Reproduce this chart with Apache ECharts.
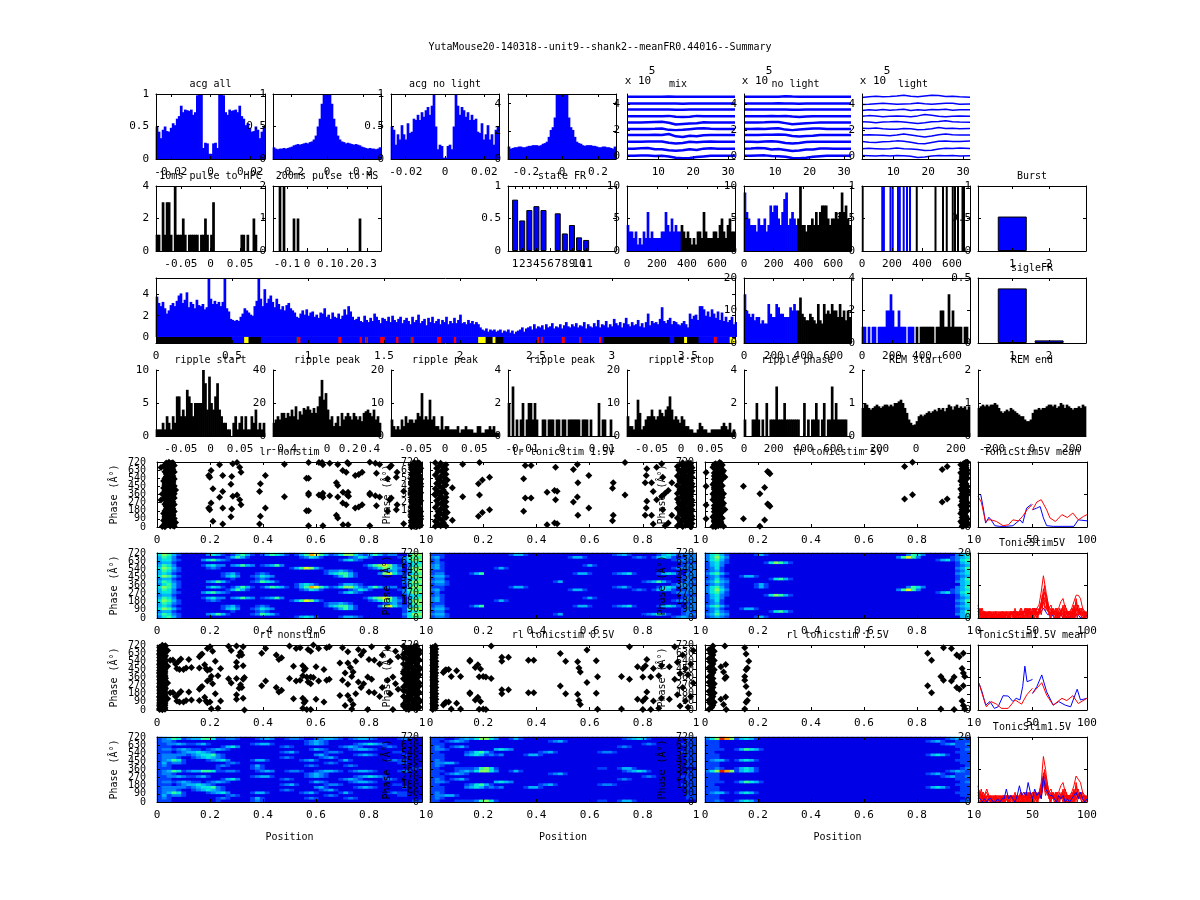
<!DOCTYPE html>
<html><head><meta charset="utf-8">
<style>html,body{margin:0;padding:0;background:#fff}#c{width:1200px;height:900px}</style>
<script src="https://cdn.jsdelivr.net/npm/echarts@6/dist/echarts.min.js"></script>
</head><body><div id="c"></div>
<script>
// ---------- data ----------
const acgAllHalf=[.5,.42,.32,.45,.5,.43,.42,.48,.55,.52,.62,.66,.82,.72,.76,.75,.74,.76,.68,.72,.98,1,1,.17,.25,.24,.08];
const acgWideHalf=[.18,.16,.15,.16,.16,.17,.16,.17,.18,.19,.21,.22,.23,.22,.23,.24,.25,.24,.26,.27,.3,.36,.5,.62,.85,1,1];
const acgNoLightHalf=[.5,.45,.22,.38,.3,.52,.38,.3,.55,.4,.42,.62,.6,.68,.6,.72,.65,.75,.8,.68,.82,1,.5,.15,.22,.2,.02];
const acgNoLightWideHalf=[.9,.75,.8,.85,.85,.9,.9,.85,.85,.9,.95,.95,1,1,1,.95,1,1.1,1.15,1.25,1.6,2.1,2.3,3,4.7,4.7,4.7];
const pulse10=[1,1,0,3,1,3,3,1,0,4,1,1,1,2,1,0,1,1,1,1,1,0,1,1,2,1,0,1,3,0,0,0,0,0,0,0,0,0,0,0,0,0,1,1,0,1,0,0,2,1,0,0,0,0];
const pulse200=[0,0,0,2,0,2,0,0,0,0,1,0,1,0,0,0,0,0,0,0,0,0,0,0,0,0,0,0,0,0,0,0,0,0,0,0,0,0,0,0,0,0,0,1,0,0,0,0,0,0,0,0,0,0];
const stateFR=[.79,.47,.63,.69,.63,0,.58,.27,.4,.21,.17];
const phaseMix=[4,3,3,2,3,1,2,1,3,2,6,2,3,2,2,2,2,3,3,6,4,3,5,3,4,3,3,4,3,2,3,2,1,2,1,3,3,2,6,3,2,2,2,3,3,2,4,5,3,2,4,5,3,3];
const phaseNoLight=[9,6,5,4,4,4,3,5,4,4,5,3,4,7,6,7,7,5,4,6,8,9,4,5,6,5,4,5,10,4,4,3,4,4,5,4,6,4,6,7,7,7,5,4,5,5,6,5,6,9,6,7,5,4];
const phaseLightX=[5,135,146,190,205,240,252,278,300,320,365,490,540,565,605,620,640,670,680];
const burstVals=[.53];
const longFR=[3.8,3.2,2.9,3.3,2.7,2.2,2.5,3.0,3.2,2.9,3.4,3.9,4.1,3.2,3.5,4.2,2.8,3.3,3.1,2.7,3.5,3.0,2.9,3.1,2.6,2.8,5.5,3.6,3.1,3.4,3.1,3.3,2.9,3.3,5.6,2.7,2.4,1.7,1.6,1.5,1.6,1.5,1.9,2.2,2.7,2.5,2.3,2.1,2.0,2.9,3.4,5.6,3.6,2.9,4.5,3.2,3.6,3.9,3.3,2.8,3.6,3.1,2.6,2.9,2.5,3.0,3.2,2.7,2.5,2.3,1.9,1.8,2.2,2.5,2.1,2.6,2.0,2.3,2.4,1.9,2.1,1.8,2.3,2.2,2.7,1.9,2.1,1.7,2.3,1.9,1.8,2.2,1.7,2.0,2.6,2.1,2.9,2.4,1.9,1.6,1.7,1.9,1.5,1.4,2.0,1.6,1.4,1.8,1.5,2.2,1.9,1.6,1.3,1.8,1.7,1.5,1.9,1.4,2.0,1.6,1.4,1.7,1.9,1.3,1.6,1.8,1.5,1.2,1.9,1.4,1.6,2.1,1.3,1.5,1.7,1.1,1.8,1.4,1.9,1.3,1.5,1.7,1.2,1.6,1.4,1.9,1.2,1.5,1.3,1.8,1.3,1.6,2.1,1.3,1.4,1.2,1.6,1.3,1.5,1.2,1.4,1.2,.9,.7,.6,.8,.5,.7,.6,.7,.5,.6,.7,.4,.6,.5,.7,.4,.6,.3,.5,.6,.7,.9,.5,.8,.9,1.0,.7,1.2,.8,1.0,.9,1.1,.7,1.2,.9,1.0,1.3,.8,1.0,.9,1.2,.8,1.1,1.4,1.0,.9,1.2,1.0,1.3,.9,1.1,1.0,1.4,.8,1.2,1.0,.9,1.3,1.0,1.6,.9,1.2,1.1,1.5,.9,1.2,1.0,1.7,1.3,1.1,1.4,.9,1.3,1.8,1.2,1.0,1.4,1.1,1.2,1.6,1.0,1.3,.9,1.4,2.2,1.1,1.5,1.3,1.4,1.2,1.7,2.8,1.5,1.3,1.6,1.8,1.2,1.5,1.4,1.2,1.1,1.3,1.5,1.2,.9,2.2,1.7,2.0,2.1,1.6,2.9,2.9,2.6,2.0,2.4,1.9,2.6,2.2,1.8,2.4,1.6,2.3,1.5,1.9,1.4,1.6,1.9,1.2,1.4,1.1,1.3];
const stripSegments=[[0,3.81,'b'],[0,.5,'k'],[.58,.61,'y'],[.61,.69,'k'],[.925,.935,'g'],[.935,.95,'r'],[1.2,1.22,'r'],[1.34,1.355,'r'],[1.375,1.385,'g'],[1.385,1.395,'r'],[1.475,1.505,'r'],[1.58,1.595,'r'],[1.675,1.685,'g'],[1.685,1.695,'r'],[1.85,1.875,'r'],[1.96,1.975,'r'],[2.12,2.17,'y'],[2.17,2.215,'k'],[2.215,2.235,'y'],[2.235,2.285,'k'],[2.51,2.52,'r'],[2.535,2.545,'r'],[2.67,2.69,'r'],[2.785,2.795,'r'],[2.915,2.93,'r'],[2.945,3.38,'k'],[3.41,3.475,'k'],[3.475,3.495,'y'],[3.495,3.57,'k'],[3.67,3.69,'r'],[3.775,3.81,'y']];
const fr20=[15,10,9,8,9,7,8,8,6,7,6,6,12,9,8,8,12,11,9,9,8,8,8,11,10,12,10,10,14,9,8,7,7,9,8,7,6,12,7,6,12,9,10,9,12,10,10,8,12,8,10,7,10,8];
const fr4=[1,1,0,1,0,1,1,0,1,1,1,1,2,2,3,2,1,1,2,1,1,1,0,1,1,1,0,1,0,1,1,1,1,1,1,1,0,1,1,2,2,1,1,3,1,2,1,1,1,1,0,1,1,0];
const sigleFR=[.42,.02];
const rippleStart=[1,1,1,2,1,3,2,1,3,2,6,6,3,4,3,7,6,5,3,5,5,5,5,10,8,4,9,5,4,6,8,4,3,2,2,1,1,0,2,3,1,2,3,1,3,1,1,3,2,4,1,2,1,2];
const ripplePeakA=[8,10,12,10,14,14,11,14,12,16,12,18,10,15,13,17,16,18,16,14,17,14,18,24,34,22,26,16,10,12,6,8,12,6,14,10,12,14,12,10,14,12,10,12,9,14,15,16,14,12,16,10,12,8];
const ripplePeakB=[5,3,2,3,2,5,3,6,4,5,5,4,5,7,6,13,5,6,5,11,5,6,3,3,2,6,2,3,3,2,2,2,2,3,1,2,2,3,2,2,2,1,1,3,3,1,1,2,2,3,2,3,1,1];
const ripplePeakC=[2,0,3,0,1,0,1,2,0,1,2,2,1,2,1,0,0,1,1,0,1,1,1,0,1,1,0,1,1,0,1,1,1,1,1,1,0,1,1,1,0,1,0,0,0,2,0,1,1,0,0,1,0,0];
const rippleStop=[6,3,3,2,5,11,7,2,3,5,6,6,8,6,5,6,8,7,6,8,9,12,8,5,6,5,4,6,5,3,3,2,2,1,1,2,4,3,2,2,1,1,2,2,2,2,2,3,4,3,2,4,1,2];
const ripplePhase=[1,0,0,0,1,1,2,1,0,1,0,2,0,1,1,1,3,1,1,1,2,1,1,1,1,1,1,1,0,0,2,0,1,0,1,1,2,1,0,1,2,0,1,1,3,1,2,1,1,1,1,1,0,0];
const remStart=[.85,1,.95,.85,.8,.85,.9,.95,.9,.85,.9,.95,.95,.9,.95,.9,1,1,1.05,1.1,1,.85,.7,.5,.4,.33,.35,.45,.6,.65,.6,.65,.7,.75,.7,.75,.8,.75,.85,.8,.85,.75,.85,.95,.9,.8,.9,.95,.85,.9,.85,.9,.8,.9];
const remEnd=[.85,.9,.95,.9,.95,.9,.95,.95,1,.95,.85,.75,.7,.75,.8,.75,.85,.8,.75,.7,.65,.6,.6,.5,.45,.45,.5,.7,.8,.8,.85,.8,.85,.85,.9,.95,.95,.9,.95,.85,.9,1,.95,.85,.95,.9,.85,.8,.85,.85,.9,.85,.95,.9];

// spike waveforms, ×10^5, bottom channel first
const waveX=[1,3,5,7,9,11,13,15,17,19,21,23,25,27,29,32];
const waveMix=[
[0,0,.02,.02,-.02,0,-.05,-.15,-.2,-.18,-.1,-.05,0,0,0,0],
[.55,.55,.58,.6,.5,.5,.42,.38,.42,.5,.45,.55,.58,.55,.55,.55],
[1.08,1.08,1.08,1.1,1.1,1.1,1.0,.95,.98,1.08,1.05,1.08,1.1,1.08,1.08,1.08],
[1.6,1.6,1.6,1.6,1.62,1.6,1.68,1.5,1.45,1.55,1.5,1.58,1.6,1.6,1.6,1.6],
[2.07,2.07,2.07,2.07,2.08,2.1,2.0,1.98,2.0,2.05,2.1,2.12,2.08,2.07,2.07,2.07],
[2.56,2.56,2.56,2.58,2.6,2.62,2.55,2.42,2.46,2.5,2.52,2.58,2.56,2.56,2.56,2.56],
[3.05,3.05,3.05,3.06,3.06,3.05,3.08,3.02,3.0,3.02,3.08,3.05,3.05,3.05,3.05,3.05],
[3.57,3.57,3.57,3.57,3.58,3.58,3.57,3.56,3.55,3.57,3.58,3.57,3.57,3.57,3.57,3.57],
[4.03,4.03,4.03,4.03,4.04,4.04,4.03,4.03,4.02,4.03,4.03,4.03,4.03,4.03,4.03,4.03],
[4.55,4.55,4.55,4.55,4.55,4.56,4.57,4.55,4.55,4.55,4.55,4.55,4.55,4.55,4.55,4.55]];
const waveNoLight=[
[0,0,.02,.03,-.02,-.03,-.08,-.18,-.2,-.16,-.08,-.03,0,0,0,0],
[.55,.56,.6,.58,.48,.52,.44,.36,.4,.48,.48,.56,.56,.55,.55,.55],
[1.08,1.08,1.07,1.1,1.12,1.08,.98,.94,.98,1.06,1.08,1.08,1.09,1.08,1.08,1.08],
[1.6,1.6,1.6,1.62,1.62,1.64,1.62,1.52,1.48,1.52,1.54,1.6,1.6,1.6,1.6,1.6],
[2.07,2.07,2.08,2.07,2.1,2.12,2.02,1.98,2.02,2.06,2.1,2.1,2.07,2.07,2.07,2.07],
[2.56,2.56,2.57,2.58,2.6,2.6,2.52,2.44,2.48,2.52,2.54,2.56,2.56,2.56,2.56,2.56],
[3.05,3.05,3.05,3.05,3.07,3.06,3.08,3.03,3.0,3.03,3.06,3.06,3.05,3.05,3.05,3.05],
[3.57,3.57,3.57,3.57,3.58,3.57,3.58,3.56,3.56,3.57,3.57,3.57,3.57,3.57,3.57,3.57],
[4.03,4.03,4.03,4.03,4.03,4.05,4.04,4.03,4.02,4.03,4.03,4.03,4.03,4.03,4.03,4.03],
[4.55,4.55,4.55,4.56,4.55,4.55,4.6,4.57,4.55,4.55,4.55,4.56,4.55,4.55,4.55,4.55]];
const waveLight=[
[.02,.0,-.02,.02,-.02,.02,.0,-.04,-.14,-.1,-.02,.02,0,.02,-.02,0],
[.55,.58,.55,.52,.55,.6,.55,.52,.48,.4,.42,.52,.58,.56,.6,.56],
[1.1,1.05,1.02,1.08,1.1,1.15,1.12,1.05,.95,.92,1.02,1.12,1.14,1.1,1.1,1.14],
[1.6,1.62,1.6,1.58,1.55,1.6,1.68,1.6,1.52,1.45,1.52,1.62,1.68,1.62,1.6,1.6],
[2.12,2.1,2.15,2.08,2.05,2.05,2.1,2.08,2.0,2.02,2.08,2.18,2.1,2.12,2.08,2.1],
[2.62,2.6,2.55,2.6,2.62,2.65,2.6,2.55,2.5,2.55,2.62,2.65,2.7,2.62,2.6,2.58],
[3.05,3.1,3.08,3.02,3.05,3.08,3.05,3.02,3.08,3.18,3.12,3.05,3.02,3.05,3.08,3.05],
[3.5,3.55,3.52,3.58,3.52,3.55,3.6,3.5,3.55,3.52,3.58,3.55,3.6,3.52,3.55,3.55],
[3.95,3.98,4.02,4.05,4.02,3.98,4.0,4.02,4.08,4.02,3.98,4.02,4.05,4.05,3.98,4.0],
[4.5,4.55,4.6,4.55,4.58,4.62,4.68,4.6,4.55,4.62,4.68,4.65,4.58,4.6,4.55,4.52]];

// raster spikes [position, phase in 0-360]; the 360-720 half repeats them
const lrNonstim=[[.02,5],[.03,15],[.05,10],[.065,8],[.04,25],[.055,30],[.03,42],[.06,45],[.07,50],[.045,60],[.025,72],[.055,75],[.04,88],[.03,100],[.065,95],[.05,110],[.035,122],[.06,128],[.045,140],[.025,150],[.055,155],[.04,168],[.03,178],[.065,172],[.05,190],[.035,200],[.06,205],[.045,218],[.055,230],[.04,240],[.03,252],[.065,250],[.05,262],[.035,272],[.06,280],[.045,292],[.015,298],[.055,305],[.04,318],[.065,322],[.03,330],[.05,340],[.035,350],[.06,352],[.045,358],
[.03,4],[.05,20],[.06,18],[.035,34],[.05,40],[.04,52],[.06,62],[.035,65],[.05,82],[.06,85],[.04,105],[.055,118],[.03,115],[.045,125],[.06,142],[.035,138],[.05,150],[.045,180],[.06,185],[.035,188],[.05,212],[.04,205],[.05,228],[.035,228],[.06,240],[.045,250],[.055,255],[.04,268],[.05,282],[.035,292],[.055,295],[.05,315],[.03,312],[.06,335],[.04,338],[.055,345],
[.195,210],[.204,266],[.199,192],[.236,329],[.248,210],[.282,199],[.286,340],[.302,355],[.312,303],[.317,247],[.409,210],[.39,118],[.387,33],[.279,114],[.248,33],[.211,63],[.481,336],[.572,355],[.564,181],[.572,181],[.572,15],[.626,15],[.611,355],[.623,355],[.626,329],[.652,347],[.682,332],[.677,129],[.682,100],[.702,26],[.721,26],[.701,266],[.714,247],[.718,355],[.723,340],[.748,210],[.761,221],[.774,247],[.803,15],[.803,357],[.824,347],[.828,236],[.84,332],[.87,174],[.884,321],[.878,303],[.906,247],[.903,192],[.931,37],
[.96,3],[.98,12],[.995,20],[.965,30],[.985,40],[.97,52],[.99,60],[.96,70],[.98,82],[.995,90],[.965,100],[.985,112],[.975,122],[.99,132],[.96,142],[.98,152],[.97,162],[.995,172],[.965,182],[.985,192],[.975,202],[.99,212],[.96,222],[.98,232],[.97,242],[.99,252],[.965,262],[.985,272],[.975,282],[.995,292],[.96,302],[.98,312],[.97,322],[.99,332],[.965,342],[.985,352],
[.97,8],[.99,10],[.975,22],[.96,18],[.99,38],[.975,40],[.96,50],[.985,62],[.975,72],[.99,78],[.97,92],[.98,100],[.96,112],[.995,118],[.97,132],[.985,140],[.975,150],[.99,160],[.96,172],[.98,180],[.99,190],[.97,210],[.985,220],[.965,235],[.98,248],[.97,258],[.99,268],[.96,280],[.985,290],[.975,305],[.99,315],[.965,325],[.98,335],[.99,345],[.97,355]];
const lrTonic15=[[.02,8],[.04,15],[.06,10],[.03,35],[.05,50],[.02,65],[.045,78],[.035,95],[.06,105],[.025,122],[.05,135],[.04,150],[.065,160],[.03,172],[.055,185],[.04,200],[.02,215],[.06,225],[.05,240],[.03,255],[.045,268],[.06,280],[.025,292],[.05,305],[.035,318],[.06,330],[.04,345],[.02,352],
[.084,74],[.123,336],[.182,118],[.197,162],[.224,192],[.186,354],[.352,174],[.358,321],[.38,321],[.44,26],[.468,44],[.478,37],[.472,303],[.539,277],[.554,332],[.556,129],[.597,210],[.686,70],[.689,129],[.733,355],[.815,284],[.813,210],[.809,129],[.833,129],[.852,303],[.871,340],[.839,33],[.896,44],[.884,15],[.909,129],[.875,192],
[.93,10],[.96,20],[.98,5],[.94,40],[.97,55],[.95,70],[.985,85],[.93,100],[.96,115],[.98,130],[.94,145],[.97,160],[.95,175],[.985,190],[.93,205],[.96,220],[.98,235],[.94,250],[.97,265],[.95,280],[.985,295],[.93,310],[.96,325],[.98,340],[.95,352],
[.95,5],[.97,25],[.985,38],[.94,58],[.96,62],[.98,78],[.95,92],[.97,108],[.985,118],[.95,128],[.96,140],[.98,155],[.94,168],[.965,180],[.945,195],[.975,210],[.95,232],[.985,245],[.96,258],[.935,272],[.97,285],[.955,300],[.98,315],[.945,332],[.97,348]];
const lrTonic5=[[.03,6],[.05,14],[.07,8],[.04,30],[.06,42],[.035,58],[.055,70],[.045,85],[.065,96],[.03,110],[.05,125],[.04,140],[.06,152],[.035,168],[.055,180],[.075,195],[.045,210],[.06,225],[.035,238],[.05,250],[.07,262],[.04,278],[.06,290],[.03,302],[.05,316],[.065,328],[.04,342],[.055,355],[.004,244],[.004,92],
[.04,2],[.06,20],[.035,22],[.05,35],[.06,55],[.045,60],[.05,80],[.035,75],[.06,110],[.045,105],[.035,128],[.055,135],[.05,150],[.045,165],[.065,172],[.04,185],[.06,198],[.035,205],[.05,220],[.04,232],[.065,240],[.055,255],[.045,265],[.05,285],[.04,295],[.06,305],[.045,322],[.035,332],[.06,345],
[.145,92],[.207,7],[.225,77],[.24,247],[.236,255],[.245,229],[.753,310],[.783,358],[.895,277],[.914,310],
[.97,8],[.985,20],[.975,35],[.99,48],[.965,60],[.98,75],[.99,90],[.97,105],[.985,120],[.975,135],[.965,150],[.98,165],[.99,180],[.97,195],[.985,210],[.975,225],[.965,240],[.98,255],[.99,270],[.97,285],[.985,300],[.975,315],[.965,330],[.98,345],[.99,356],
[.975,12],[.99,28],[.97,42],[.98,55],[.975,85],[.985,100],[.975,115],[.98,145],[.97,172],[.98,190],[.975,205],[.97,218],[.99,232],[.975,250],[.98,275],[.975,295],[.985,320],[.975,340],[.985,358]];
const rlNonstim=[[.01,5],[.02,15],[.03,8],[.015,30],[.025,40],[.01,55],[.03,68],[.02,80],[.012,92],[.028,105],[.018,118],[.032,130],[.01,142],[.024,155],[.015,168],[.03,178],[.02,190],[.012,202],[.028,215],[.018,228],[.032,240],[.01,252],[.024,265],[.015,278],[.03,290],[.02,302],[.012,315],[.028,328],[.018,340],[.032,352],[.04,125],[.04,300],
[.02,3],[.01,18],[.03,25],[.02,35],[.01,45],[.03,50],[.02,62],[.01,78],[.03,88],[.02,100],[.01,112],[.03,115],[.02,130],[.01,150],[.03,160],[.02,172],[.01,185],[.03,200],[.02,210],[.01,222],[.03,232],[.02,248],[.01,262],[.03,270],[.02,285],[.01,295],[.03,310],[.02,320],[.01,335],[.03,345],[.02,358],
[.05,190],[.06,195],[.07,150],[.075,100],[.08,175],[.085,90],[.09,205],[.1,90],[.11,105],[.12,200],[.13,110],[.16,105],[.16,230],[.165,250],[.17,260],[.18,140],[.185,100],[.19,80],[.19,320],[.2,90],[.2,340],[.205,15],[.21,290],[.22,180],[.23,20],[.24,100],[.27,345],[.28,300],[.3,120],[.3,170],[.3,350],[.31,240],[.315,280],[.32,250],[.33,0],[.325,130],[.325,340],[.395,270],[.41,320],[.45,250],[.46,200],[.47,220],[.5,350],[.515,125],[.525,320],[.54,330],[.55,20],[.55,130],[.555,80],[.56,100],[.565,5],[.57,310],[.58,5],[.58,290],[.59,360],[.6,120],[.61,320],[.63,90],[.64,330],[.65,340],[.69,160],[.7,330],[.71,50],[.72,160],[.72,285],[.73,110],[.735,10],[.74,60],[.75,180],[.76,310],[.77,250],[.78,290],[.795,5],[.8,200],[.81,340],[.82,190],[.84,150],[.85,250],[.87,330],[.88,180],[.89,5],[.9,290],[.91,230],
[.94,10],[.96,25],[.98,15],[.93,45],[.95,60],[.97,75],[.99,90],[.94,105],[.96,120],[.98,135],[.93,150],[.95,165],[.97,180],[.99,195],[.94,210],[.96,225],[.98,240],[.93,255],[.95,270],[.97,285],[.99,300],[.94,315],[.96,330],[.98,345],
[.95,5],[.97,20],[.99,30],[.94,30],[.96,48],[.98,60],[.93,65],[.97,92],[.95,100],[.99,110],[.96,130],[.94,130],[.98,155],[.96,170],[.95,190],[.97,205],[.93,215],[.98,225],[.96,245],[.95,255],[.99,265],[.97,270],[.94,285],[.96,300],[.98,310],[.95,325],[.97,340],[.93,345]];
const rlTonic05=[[.01,5],[.02,20],[.012,35],[.022,50],[.01,68],[.02,85],[.012,100],[.022,118],[.01,135],[.02,150],[.012,165],[.022,180],[.01,198],[.02,215],[.012,230],[.022,248],[.01,265],[.02,282],[.012,298],[.022,315],[.01,332],[.02,348],
[.05,55],[.06,85],[.07,90],[.08,10],[.055,75],[.1,75],[.115,12],[.15,190],[.15,180],[.17,110],[.18,140],[.185,8],[.19,95],[.2,10],[.21,5],[.23,350],[.27,180],[.27,225],[.295,225],[.37,190],[.39,190],[.51,180],[.555,175],[.56,105],[.565,60],[.59,305],[.63,8],[.625,185],[.49,265],
[.72,12],[.75,340],[.78,120],[.8,5],[.8,100],[.81,130],[.815,200],[.83,5],[.84,100],[.86,20],[.87,130],[.9,120],[.92,340],[.93,170],[.94,45],[.96,100],[.97,30],[.98,150],[.95,250],[.99,300]];
const rlTonic15=[[.015,8],[.025,28],[.03,52],[.02,70],[.035,85],[.015,108],[.025,128],[.03,150],[.02,170],[.035,188],[.015,208],[.025,228],[.03,250],[.02,270],[.035,290],[.015,308],[.025,328],[.03,350],
[.07,62],[.075,350],[.078,145],[.08,5],[.06,120],[.15,10],[.155,85],[.16,105],[.15,330],[.165,180],[.155,260],
[.84,270],[.855,190],[.89,10],[.9,330],[.93,320],[.94,5],[.95,250],[.96,230],[.97,100],[.975,50],[.975,270],[.98,10]];

// rate maps: 12 rows for 0-360 (bottom first), level 0-9 across position; the 360-720 half repeats them
const heatLrNon=["245310000 000000000 000000000 013431000 013321000 000001455","354210000 023531000 012543100 000000000 000000000 000002466","233100000 000000100 001210000 000000000 000000000 000001345","465310000 000013420 012432000 000000000 135310000 000001566","343100000 000012310 001210000 000000013 455310000 267421245","354210000 000000000 000000000 000000012 232100000 012310256","465310000 012100000 000000000 135763100 000000012 465320366","354200000 134220235 320123520 000000000 000000135 676310245","233100000 000000000 000000000 000000000 000000000 000001344","344210000 245321000 000000000 000000000 013421000 000002466","354200000 000001353 100000000 001243100 000124310 000012555","465310000 024310135 310135431 013587531 246642135 312200466"];
const heatLr15=["122100000 000000000 000000000 000000000 000000000 000012321","233100000 000000000 000000013 000000000 000000012 353100122","122000000 000000000 000000000 000000000 000000000 000000121","233100000 000000000 000000000 000000000 000000000 000000122","122000001 350000000 000000000 001331000 012341000 013431022","111000000 000000000 000000000 000000000 000000000 000000012","231000000 000013100 000000000 000000000 000000000 000012222","231000000 000000000 000000000 000013100 000000000 000000122","121000000 000000000 000000000 000000000 000000000 000000111","120000000 000000000 000000000 000000000 000000000 000012222","231000000 000000000 000000000 013310000 000001210 134310122","111000000 000000013 310000000 000000000 012310000 013431222"];
const heatLr5=["123210000 013100000 000000000 000000000 000000000 000000034","235320000 000000000 000000000 000000000 000000000 000000234","124210000 000014531 000000000 000000000 000000000 000000135","123100013 310000000 000000000 000000000 000000000 000000123","245310000 000000000 000000000 000000000 000000000 000000234","123100000 000000000 000000000 000000000 000000000 000000124","124100000 000000000 000000000 000000000 000000000 000000235","134200000 000000000 000000000 000000000 000000000 000000123","134210000 000146531 000000000 000000000 000000000 000000134","245310000 000000000 000000000 000000000 000000000 001341245","246420000 000000000 000000000 000000000 000257520 000001234","245310000 013100000 000000000 000000000 000002542 000000235"];
const heatRlNon=["111000000 000100000 012100000 000000000 000000000 000000011","121000000 000121000 013100000 000121000 001210000 000000000","131221000 000001210 000000000 000000012 100000000 000011000","123541000 012342000 013310000 001231000 013100000 001211000","122210012 343210000 000000012 100000123 100000000 000000000","122222123 445210000 000000000 000002310 000012321 000001000","111012334 321000000 000000012 310000012 210000000 000110000","122123211 012321000 000000000 000013210 000123321 000000000","111000000 000013420 000000012 100000000 012321000 012100000","112232112 310000000 012331000 000123210 000012343 210000000","122100000 000000000 000000000 000123210 000000000 000000000","123541233 554112210 001232001 221001233 210123321 000012100"];
const heatRl05=["110001111 256410000 000000000 000000011 001331000 000000000","121000000 000000000 000000000 000000000 000000000 000000011","122331000 000000000 000000000 000000000 000000000 000000011","121000000 000000000 000000000 000000000 000000000 000000011","111000000 000000000 000000000 000000000 000000000 000000011","111000023 431212000 013310000 000000000 000000000 000000011","110000012 453100000 000012310 000000012 210000000 000000111","122100000 000034320 000000000 000000000 000000000 000000011","121012310 000000000 000000000 000000000 001210000 000000011","111000000 000000000 000000000 000000000 000000012 100000111","110123210 000000000 000000123 100000000 000000000 000000011","111001232 466420013 100000000 000000000 000123431 000000011"];
const heatRl15=["112100134 310000000 000000000 000000000 000000000 000000012","111000000 000000000 000000000 000000000 000000000 000000001","111000000 000000000 000000000 000000000 000000000 000000011","123310134 310000000 000000000 000000000 000000000 000000111","111000000 000000000 000000000 000000000 000000000 000000011","111000000 000000000 000000000 000000000 000000000 134310011","110000000 000000000 000000000 000000000 000000000 000000111","111100135 431000000 000000000 000000000 000000000 000000012","111000000 000000000 000000000 000000000 000000000 000000111","111000000 000000000 000000000 000000000 000000000 000123112","111000000 000000000 000000000 000000000 000000000 123100111","246986134 310000000 000000000 000000000 000000000 000012321"];

// mean tuning curves [x,y]
const mean5BlueA=[[0,10],[2.5,10],[4.6,6.3],[7,1.2],[10,3],[12,2.2],[15.4,.4],[20,.2],[26,.2],[32,.4],[38.5,2.2],[41,1.2],[44.6,5.8],[49,7]];
const mean5BlueB=[[50,5.3],[53.8,5.8],[57,6.3],[60,2.8],[63,.4],[69,.2],[88,.2],[92,2.2],[100,1.9]];
const mean5RedA=[[0,9.4],[3,7.7],[7,1.5],[9,2.2],[12,2.2],[17,1.7],[23,.4],[28,.7],[32,2.2],[37,1.9],[41,3.3],[45,5.3],[50,7]];
const mean5RedB=[[50,5.3],[54,7.7],[58,8.4],[63,5.3],[66,2.8],[71,1.7],[77,3.8],[82,2.9],[87,4.3],[92,2.2],[97,3.3],[100,3.8]];
const mean15BlueA=[[1,8.2],[3.7,5.6],[7,1.5],[11,2.6],[15,.5],[18.5,1],[23,4.4],[27.7,4.3],[32,2.6],[35,3.6],[38.5,3.1],[41,7.2],[43,13.5],[45,8.7],[50,9.4]];
const mean15BlueB=[[50,5.1],[54,7.2],[58.5,10.8],[63,5.6],[69,1.5],[74,2.6],[80,1.5],[85,1],[91,6.4],[94,3.1],[100,3.6]];
const mean15RedA=[[1,8.2],[3.7,5.1],[7.7,1],[12,2.6],[17,1.8],[21.5,.5],[27.7,.5],[34,3.1],[40,1.8],[44.6,4.6],[50,6.7]];
const mean15RedB=[[50,5.1],[54,6.7],[58.5,8.4],[63,4.6],[69,1.5],[77,3.6],[81.5,2.9],[87,4.4],[92,2],[100,3.6]];

// single-trial tuning curves sampled every 2 position units
const trials5Red=[
[3,2,1,2,1,0,1,1,0,1,1,2,1,0,1,1,2,2,1,1,2,2,3,2,2,3,2,3,4,8,13,9,4,3,2,2,2,3,5,6,3,2,2,3,5,7,7,6,3,2,1],
[4,1,3,0,2,1,0,2,0,1,0,2,0,1,0,2,1,0,2,1,3,0,2,1,3,0,2,1,3,1,5,2,4,1,3,1,2,1,2,0,4,1,2,0,4,1,2,1,3,0,2],
[2,3,0,2,1,2,0,1,2,0,2,0,1,2,0,1,2,0,1,2,0,2,1,3,0,3,1,3,2,5,7,5,2,3,1,2,0,2,1,3,0,2,1,3,1,5,1,2,1,2,1],
[1,0,2,1,0,1,2,0,1,2,1,0,2,1,2,0,1,3,0,1,2,1,0,2,1,2,0,2,1,4,9,6,3,1,2,0,1,2,1,4,1,0,2,1,3,2,4,1,0,1,2],
[3,1,0,2,0,2,1,0,2,1,0,1,0,2,1,2,0,1,2,0,1,2,3,0,2,1,3,0,2,3,6,3,5,0,2,1,3,0,2,1,2,1,0,2,0,6,2,3,1,2,0]];
const trials5RedOdd=[
[2,0,2,1,2,0,2,1,0,2,1,2,0,2,1,2,0,2,1,3,0,2,1,3,0,3,1,2,3,6,8,7,3,4,1,3,0,3,1,2,0,2,1,3,0,4,1,3,0,2],
[0,3,0,2,0,2,0,2,1,0,2,0,2,0,2,1,2,0,2,0,2,0,3,0,2,0,3,0,4,3,10,4,2,0,3,0,2,0,3,1,2,0,2,0,3,0,3,0,2,1],
[3,1,2,0,1,2,1,0,2,1,0,2,1,1,0,2,1,2,0,2,1,3,0,2,1,2,2,1,2,7,5,6,1,2,2,1,3,1,2,0,3,1,0,2,2,3,2,1,2,0]];
const trials5Blue=[2,1,1,0,1,1,0,0,0,1,0,1,0,1,0,1,1,2,1,1,1,2,2,1,2,2,3,1,2,2,3,2,1,1,1,0,1,0,1,0,1,0,0,1,0,1,1,0,1,0,1];
const trials15Red=[
[4,3,1,2,3,1,0,1,1,0,1,1,2,1,0,1,1,2,1,1,2,1,2,2,2,3,2,2,3,6,14,10,4,3,2,2,2,3,5,6,3,2,2,3,5,8,7,6,3,2,1],
[5,1,3,0,2,1,0,2,0,1,0,2,0,1,0,2,1,0,2,1,3,0,2,1,3,0,2,1,3,1,6,2,4,1,3,1,2,1,2,0,4,1,2,0,4,1,2,1,3,0,2],
[2,3,0,2,4,2,0,1,2,0,2,0,1,2,0,1,2,0,1,2,0,2,1,3,0,3,1,3,2,5,7,5,2,3,1,2,0,2,1,3,0,2,1,3,1,5,1,2,1,2,1],
[1,0,2,1,0,1,2,0,1,2,1,0,2,1,2,0,1,3,0,1,2,1,0,2,1,2,0,2,1,4,9,6,3,1,2,0,1,2,1,4,1,0,2,1,3,2,4,1,0,1,2],
[3,1,0,2,0,2,1,0,2,1,0,1,0,2,1,2,0,1,2,0,1,2,3,0,2,1,3,0,2,3,6,3,5,0,2,1,3,0,2,1,2,1,0,2,0,6,2,3,1,2,0]];
const trials15RedOdd=[
[3,0,3,1,2,0,2,1,0,2,1,2,0,2,1,2,0,2,1,3,0,2,1,3,0,3,1,2,3,6,9,7,3,4,1,3,0,3,1,2,0,2,1,3,0,4,1,3,0,2],
[1,4,0,2,0,2,0,2,1,0,2,0,2,0,2,1,2,0,2,0,2,0,3,0,2,0,3,0,4,3,10,4,2,0,3,0,2,0,3,1,2,0,2,0,3,0,3,0,2,1],
[2,2,2,0,1,2,1,0,2,1,0,2,1,1,0,2,1,2,0,2,1,3,0,2,1,2,2,1,2,7,5,6,1,2,2,1,3,1,2,0,3,1,0,2,2,3,2,1,2,0]];
const trials15Blue=[1,1,0,1,0,1,1,0,0,1,0,1,1,4,1,2,1,0,2,5,2,3,2,6,3,1,4,2,3,1,8,4,3,2,2,1,0,2,1,2,0,1,0,1,2,3,1,3,1,0,1];

// tick values
const t01=[0,.5,1], t012=[0,1,2], t024=[0,2,4], t0510=[0,5,10], t01020=[0,10,20], t02040=[0,20,40], tZeroHalf=[0,.5];
const tAcgShort=[-.02,0,.02], tAcgWide=[-.2,0,.2], tPulse=[-.05,0,.05], tPulse200=[-.1,0,.1,.2,.3], tDeg=[0,200,400,600];
const tWaveX=[10,20,30], tStates=[1,2,3,4,5,6,7,8,9,10,11], tStatesMain=[1,2,3,4,5,6,7,8,9,11], tStatesOver=[10], tBurst=[1,2], tLong=[0,.5,1,1.5,2,2.5,3,3.5];
const tRipWide=[-.4,-.2,0,.2,.4], tRipNarrow=[-.01,0,.01], tRem=[-200,0,200], tPos=[0,.2,.4,.6,.8,1];
const tPhase=[0,90,180,270,360,450,540,630,720], tPhaseMain=[0,180,360,540,720], tPhaseOver=[90,270,450,630], tStim=[0,50,100];

// ---------- chart building ----------
const FONT='"DejaVu Sans Mono","Liberation Mono",monospace';
const JET=['#0000e6','#0040ff','#0080ff','#00b4ff','#00e6e0','#30ffa0','#80ff60','#e0ff20','#ffa000','#e02000'];
const grid=[],xAxis=[],yAxis=[],series=[],title=[],heatIdx=[];
const X=[[156,265],[273,381],[391,499],[508,616],[627,735],[744,851],[862,970],[978,1086]];
const RX=[[157,422],[430,696],[705,970],[978,1087]];
const Y=[[94,159],[186,251],[278,343],[370,436],[462,527],[553,618],[645,710],[737,802]];
const fmt=v=>String(+(+v).toFixed(4));
const noMarks={axisLine:{show:false},axisTick:{show:false}};
function axis(kind,pos,gi,r,ticks,labels,extra,lab){
  lab=lab||{};
  const o=Object.assign({type:'value',gridIndex:gi,position:pos,min:r[0],max:r[1],z:6,
    axisLine:{show:true,onZero:false,lineStyle:{color:'#000',width:1}},
    axisTick:{show:true,inside:true,length:3,customValues:ticks,lineStyle:{color:'#000',width:1}},
    splitLine:{show:false},
    axisLabel:{show:!!labels,customValues:labels||[],formatter:fmt,showMinLabel:true,showMaxLabel:true,hideOverlap:false,margin:lab.margin||(kind==='x'?8:7),color:'#000',fontFamily:FONT,fontSize:lab.size||11}},extra||{});
  (kind==='x'?xAxis:yAxis).push(o);return (kind==='x'?xAxis:yAxis).length-1;
}
function panel(xp,yp,xr,yr,xt,yt,o){
  o=o||{};
  const gi=grid.length;
  grid.push({left:xp[0],top:yp[0],width:xp[1]-xp[0],height:yp[1]-yp[0],containLabel:false});
  const x=axis('x','bottom',gi,xr,xt,o.xl||xt,o.xExtra,o.xLab), y=axis('y','left',gi,yr,yt,o.yl===undefined?yt:o.yl,o.yExtra,o.yLab);
  if(o.box!==false){axis('x','top',gi,xr,xt,null);axis('y','right',gi,yr,yt,null);}
  // labels that would collide with a neighbour on one axis sit on a mark-less companion axis
  if(o.xl2)axis('x','bottom',gi,xr,[],o.xl2,noMarks,o.xLab);
  if(o.yl2)axis('y','left',gi,yr,[],o.yl2,noMarks,o.yLab);
  return {x,y,xp,yp,xr,yr};
}
function text(s,x,y,size){title.push({text:s,left:x,top:y-5,textAlign:'center',padding:0,textStyle:{fontFamily:FONT,fontSize:size||10,fontWeight:'normal',color:'#000'}});}
function head(s,xp,yp,dx){text(s,(xp[0]+xp[1])/2+(dx||0),yp[0]-10);}
function bins(vals,r){const w=(r[1]-r[0])/vals.length;return vals.map((v,i)=>[r[0]+(i+.5)*w,v]).filter(d=>d[1]>0);}
function bars(p,data,w,color,extra){series.push(Object.assign({type:'bar',xAxisIndex:p.x,yAxisIndex:p.y,data:data,barWidth:w,silent:true,z:2,itemStyle:{color:color,borderWidth:0}},extra||{}));}
const splitColor=c=>c.value[0]<360?'#0000ff':'#000';
function hist(p,vals,color){bars(p,bins(vals,p.xr),(p.xp[1]-p.xp[0])/vals.length+.7,color);}
function mirror(a){return a.concat(a.slice().reverse());}
function lineS(p,data,color,width){series.push({type:'line',xAxisIndex:p.x,yAxisIndex:p.y,data:data,showSymbol:false,silent:true,z:3,lineStyle:{color:color,width:width||1},itemStyle:{color:color}});}

// row 1
let p;
p=panel(X[0],Y[0],[-.0275,.0275],[0,1],tAcgShort,t01);hist(p,mirror(acgAllHalf),'#0000ff');head('acg all',X[0],Y[0]);
p=panel(X[1],Y[0],[-.3,.3],[0,1],tAcgWide,t01);hist(p,mirror(acgWideHalf),'#0000ff');
p=panel(X[2],Y[0],[-.0275,.0275],[0,1],tAcgShort,t01);hist(p,mirror(acgNoLightHalf),'#0000ff');head('acg no light',X[2],Y[0]);
p=panel(X[3],Y[0],[-.3,.3],[0,4.7],tAcgWide,[0,2,4]);hist(p,mirror(acgNoLightWideHalf),'#0000ff');
[[X[4],waveMix,2.5,'mix',-3],[X[5],waveNoLight,2.5,'no light',-2],[X[6],waveLight,1.5,'light',-3]].forEach(d=>{
  const q=panel(d[0],Y[0],[1,32],[-.25,4.77],tWaveX,t024,{box:false});
  d[1].forEach(ch=>lineS(q,ch.map((v,i)=>[waveX[i],v]),'#0000ff',d[2]));
  head(d[3],d[0],Y[0],d[4]);
  text('x 10',d[0][0]+11,81,11);text('5',d[0][0]+25,71,11);
});
// row 2
p=panel(X[0],Y[1],[-.092,.092],[0,4],tPulse,t024);hist(p,pulse10,'#000');head('10ms pulse to HPC',X[0],Y[1]);
p=panel(X[1],Y[1],[-.17,.37],[0,2],tPulse200,t012);hist(p,pulse200,'#000');head('200ms pulse to MS',X[1],Y[1]);
p=panel(X[3],Y[1],[0,15.2],[0,1],tStates,t01,{xl:tStatesMain,xl2:tStatesOver});bars(p,stateFR.map((v,i)=>[i+1,v]).filter(d=>d[1]>0),6,'#0000ff',{itemStyle:{color:'#0000ff',borderColor:'#000',borderWidth:1}});head('state FR',X[3],Y[1]);
p=panel(X[4],Y[1],[0,720],[0,10],tDeg,t0510);hist(p,phaseMix,splitColor);
p=panel(X[5],Y[1],[0,720],[0,10],tDeg,t0510);hist(p,phaseNoLight,splitColor);
p=panel(X[6],Y[1],[0,720],[0,1],tDeg,t01);bars(p,phaseLightX.map(v=>[v,1]),2,splitColor);
p=panel(X[7],Y[1],[.07,3],[0,1],tBurst,t01);bars(p,burstVals.map((v,i)=>[i+1,v]),29,'#0000ff',{itemStyle:{color:'#0000ff',borderColor:'#000',borderWidth:1}});head('Burst',X[7],Y[1]);
// row 3
p=panel([156,735],Y[2],[0,3.81],[-.57,5.55],tLong,t024);
bars(p,bins(longFR,[0,longFR.length*3.81/290]),2.7,'#0000ff');
const stripColors={b:'#0000ff',k:'#000000',y:'#ffff00',r:'#ff0000',g:'#008000'};
series.push({type:'custom',xAxisIndex:p.x,yAxisIndex:p.y,silent:true,z:3,clip:true,
  data:stripSegments.map(s=>({value:[s[0],s[1],-.57,0],itemStyle:{color:stripColors[s[2]]}})),
  encode:{x:[0,1],y:[2,3]},
  renderItem:(par,api)=>{const a=api.coord([api.value(0),api.value(2)]),b=api.coord([api.value(1),api.value(3)]);
    return {type:'rect',shape:{x:a[0],y:b[1],width:b[0]-a[0],height:a[1]-b[1]},style:{fill:api.visual('color')}};}});
p=panel(X[5],Y[2],[0,720],[0,20],tDeg,t01020);hist(p,fr20,splitColor);
p=panel(X[6],Y[2],[0,720],[0,4],tDeg,t024);hist(p,fr4,splitColor);
p=panel(X[7],Y[2],[.07,3],[0,.5],tBurst,tZeroHalf);bars(p,sigleFR.map((v,i)=>[i+1,v]),29,'#0000ff',{itemStyle:{color:'#0000ff',borderColor:'#000',borderWidth:1}});head('sigleFR',X[7],Y[2]);
// row 4
[[X[0],[-.092,.092],tPulse,[0,10],t0510,rippleStart,'ripple start'],[X[1],[-.5,.5],tRipWide,[0,40],t02040,ripplePeakA,'ripple peak'],[X[2],[-.092,.092],tPulse,[0,20],t01020,ripplePeakB,'ripple peak'],[X[3],[-.0135,.0135],tRipNarrow,[0,4],t024,ripplePeakC,'ripple peak'],[X[4],[-.092,.092],tPulse,[0,20],t01020,rippleStop,'ripple stop'],[X[5],[0,720],tDeg,[0,4],t024,ripplePhase,'ripple phase'],[X[6],[-270,270],tRem,[0,2],t012,remStart,'REM start'],[X[7],[-270,270],tRem,[0,2],t012,remEnd,'REM end']].forEach(d=>{
  const q=panel(d[0],Y[3],d[1],d[3],d[2],d[4],{box:false});hist(q,d[5],'#000');head(d[6],d[0],Y[3]);
});
// rasters and rate maps
const phaseAxis={name:'Phase (Â°)',nameLocation:'middle',nameGap:38,nameRotate:90,nameTextStyle:{fontFamily:FONT,fontSize:10,color:'#000'}};
const phaseLab={margin:11,size:10};
const phaseOpts={yl:tPhaseMain,yl2:tPhaseOver,yExtra:phaseAxis,yLab:phaseLab};
function raster(i,yi,pts,name){
  const q=panel(RX[i],Y[yi],[0,1],[0,720],tPos,tPhase,phaseOpts);
  const dbl=pts.concat(pts.map(d=>[d[0],d[1]+360]));
  series.push({type:'scatter',xAxisIndex:q.x,yAxisIndex:q.y,data:dbl,symbol:'diamond',symbolSize:7,silent:true,z:3,itemStyle:{color:'#000',opacity:1}});
  if(name)text(name,(RX[i][0]+RX[i][1])/2,Y[yi][0]-10);
}
function heat(i,yi,rows,bottom){
  const gi=grid.length;
  const clean=rows.map(r=>r.replace(/ /g,''));
  const nc=clean[0].length;
  grid.push({left:RX[i][0],top:Y[yi][0],width:RX[i][1]-RX[i][0],height:Y[yi][1]-Y[yi][0],backgroundColor:JET[0],show:true,borderWidth:0});
  const cx=xAxis.push({type:'category',gridIndex:gi,show:false,data:Array.from({length:nc},(_,k)=>k)})-1;
  const cy=yAxis.push({type:'category',gridIndex:gi,show:false,data:Array.from({length:24},(_,k)=>k)})-1;
  const data=[];
  for(let r=0;r<24;r++){const row=clean[r%12];for(let c=0;c<row.length;c++)data.push([c,r,+row[c]]);}
  heatIdx.push(series.length);
  series.push({type:'heatmap',xAxisIndex:cx,yAxisIndex:cy,data:data,silent:true,z:1,progressive:0,itemStyle:{borderWidth:0}});
  const ex=bottom?{name:'Position',nameLocation:'middle',nameGap:30,nameTextStyle:{fontFamily:FONT,fontSize:10,color:'#000'}}:null;
  panel(RX[i],Y[yi],[0,1],[0,720],tPos,tPhase,Object.assign({xExtra:ex},phaseOpts));
}
raster(0,4,lrNonstim,'lr nonstim');raster(1,4,lrTonic15,'lr tonicstim 1.5V');raster(2,4,lrTonic5,'lr tonicstim 5V');
heat(0,5,heatLrNon);heat(1,5,heatLr15);heat(2,5,heatLr5);
raster(0,6,rlNonstim,'rl nonstim');raster(1,6,rlTonic05,'rl tonicstim 0.5V');raster(2,6,rlTonic15,'rl tonicstim 1.5V');
heat(0,7,heatRlNon,true);heat(1,7,heatRl05,true);heat(2,7,heatRl15,true);
// tuning curves
function stim(yi,name,curves){
  const q=panel(RX[3],Y[yi],[0,100],[0,20],tStim,t01020,{yl:yi%2?[0,20]:[0]});
  curves.forEach(c=>lineS(q,c[0],c[1],1));
  text(name,1032,Y[yi][0]-10);
}
const every2=a=>a.map((v,i)=>[i*2,v]);
const odd2=a=>a.map((v,i)=>[i*2+1,v]);
stim(4,'TonicStim5V mean',[[mean5BlueA,'#0000ff'],[mean5BlueB,'#0000ff'],[mean5RedA,'#ff0000'],[mean5RedB,'#ff0000']]);
stim(5,'TonicStim5V',[[every2(trials5Blue),'#0000ff']].concat(trials5Red.map(t=>[every2(t),'#ff0000']),trials5RedOdd.map(t=>[odd2(t),'#ff0000'])));
stim(6,'TonicStim1.5V mean',[[mean15BlueA,'#0000ff'],[mean15BlueB,'#0000ff'],[mean15RedA,'#ff0000'],[mean15RedB,'#ff0000']]);
stim(7,'TonicStim1.5V',trials15Red.map(t=>[every2(t),'#ff0000']).concat(trials15RedOdd.map(t=>[odd2(t),'#ff0000']),[[every2(trials15Blue),'#0000ff']]));

text('YutaMouse20-140318--unit9--shank2--meanFR0.44016--Summary',600,47);

const chart=echarts.init(document.getElementById('c'),null,{renderer:'canvas'});
chart.setOption({animation:false,backgroundColor:'#fff',title,grid,xAxis,yAxis,series,tooltip:{show:false},
  visualMap:{show:false,type:'continuous',min:0,max:9,dimension:2,seriesIndex:heatIdx,inRange:{color:JET}}});
</script></body></html>
